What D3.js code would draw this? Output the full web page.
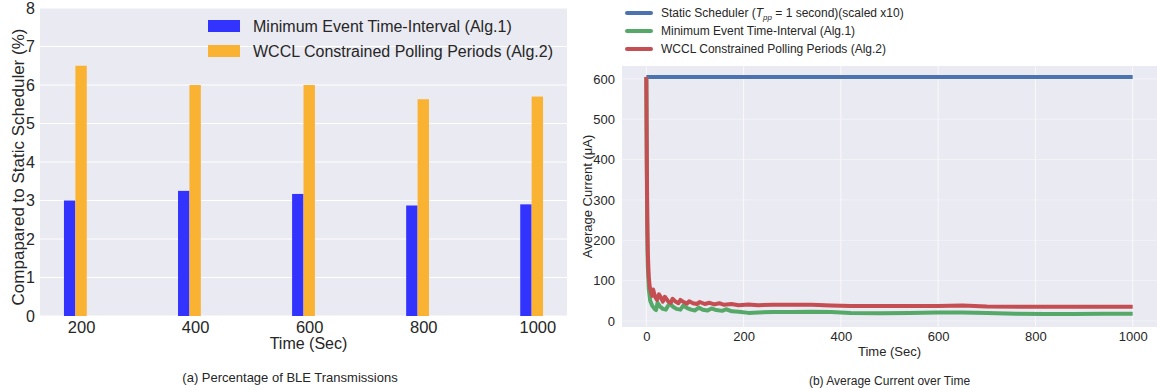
<!DOCTYPE html>
<html>
<head>
<meta charset="utf-8">
<script src="https://cdn.jsdelivr.net/npm/d3@7"></script>
<style>
  body { margin: 0; background: white; }
  text { font-family: "Liberation Sans", Arial, sans-serif; fill: #262626; }
</style>
</head>
<body>
<div id="chart"></div>
<script>
// left chart: percentage of BLE transmissions
const barTimes = [200, 400, 600, 800, 1000];
const alg1Pct = [3.0, 3.25, 3.17, 2.87, 2.9];
const alg2Pct = [6.5, 6.0, 6.0, 5.63, 5.7];
const barYTicks = [0, 1, 2, 3, 4, 5, 6, 7, 8];

// right chart: average current over time, [time, µA]
const staticLine = [[0, 605], [1000, 605]];
const alg1Current = [
  [0, 605], [1, 370], [2, 220], [3, 140], [5, 80], [8, 50], [12, 38], [17, 30], [20, 27],
  [23, 45], [28, 36], [34, 30], [40, 28], [48, 44], [54, 36], [62, 30], [70, 28], [76, 38],
  [84, 32], [92, 28], [100, 26], [108, 33], [116, 28], [126, 26], [134, 31], [144, 27],
  [156, 25], [164, 29], [176, 24], [190, 23], [210, 20], [230, 21], [260, 22], [300, 22],
  [340, 23], [380, 22], [420, 20], [480, 19], [540, 20], [600, 21], [650, 21], [700, 20],
  [760, 18], [820, 17], [880, 17], [940, 18], [1000, 18]
];
const alg2Current = [
  [0, 605], [1, 400], [2, 250], [3, 170], [5, 110], [7, 85], [10, 70], [12, 62], [14, 78],
  [18, 60], [22, 52], [26, 66], [30, 58], [34, 48], [38, 60], [44, 50], [50, 45], [54, 55],
  [60, 48], [66, 44], [70, 52], [78, 46], [84, 43], [88, 49], [96, 44], [104, 42], [110, 47],
  [120, 42], [130, 45], [140, 41], [150, 44], [160, 40], [175, 42], [190, 39], [210, 41],
  [230, 39], [260, 40], [300, 40], [340, 40], [380, 38], [420, 37], [500, 37], [600, 37],
  [650, 38], [700, 36], [800, 35], [900, 35], [1000, 35]
];
const lineXTicks = [0, 200, 400, 600, 800, 1000];
const lineYTicks = [0, 100, 200, 300, 400, 500, 600];

const w = 1157, h = 390;
const bg = "#EAEAF2";

const svg = d3.select("#chart").append("svg")
  .attr("width", w).attr("height", h)
  .style("background", "white");

// ---------- left: bars ----------
const L = { left: 40, right: 567, top: 8, bottom: 316 };
const barW = 20;
const xL = d3.scaleLinear().domain([138, 1062]).range([L.left, L.right]);
const yL = d3.scaleLinear().domain([0, 8]).range([L.bottom, L.top]);

svg.append("rect")
  .attr("x", L.left).attr("y", L.top)
  .attr("width", L.right - L.left).attr("height", L.bottom - L.top)
  .attr("fill", bg);

svg.append("g").selectAll("line")
  .data(barYTicks)
  .enter().append("line")
  .attr("x1", L.left).attr("x2", L.right)
  .attr("y1", d => yL(d)).attr("y2", d => yL(d))
  .attr("stroke", "white").attr("stroke-width", 1);

svg.append("g").selectAll("rect")
  .data(alg1Pct)
  .enter().append("rect")
  .attr("x", (d, i) => xL(barTimes[i] - barW))
  .attr("y", d => yL(d))
  .attr("width", (d, i) => xL(barTimes[i]) - xL(barTimes[i] - barW))
  .attr("height", d => yL(0) - yL(d))
  .attr("fill", "#3333FF");

svg.append("g").selectAll("rect")
  .data(alg2Pct)
  .enter().append("rect")
  .attr("x", (d, i) => xL(barTimes[i]))
  .attr("y", d => yL(d))
  .attr("width", (d, i) => xL(barTimes[i] + barW) - xL(barTimes[i]))
  .attr("height", d => yL(0) - yL(d))
  .attr("fill", "#FAB233");

const axL = svg.append("g")
  .attr("transform", "translate(" + L.left + ",0)")
  .call(d3.axisLeft(yL).tickValues(barYTicks).tickSize(0).tickPadding(5));
axL.select(".domain").remove();
axL.selectAll("text").style("font-size", "16px").style("font-family", "Liberation Sans, Arial");

const axLB = svg.append("g")
  .attr("transform", "translate(0," + L.bottom + ")")
  .call(d3.axisBottom(xL).tickValues(barTimes.map(t => t + barW / 2)).tickFormat((d, i) => barTimes[i]).tickSize(0).tickPadding(5));
axLB.select(".domain").remove();
axLB.selectAll("text").style("font-size", "16.5px").style("font-family", "Liberation Sans, Arial");

svg.append("text")
  .attr("x", (L.left + L.right) / 2 + 5).attr("y", 349)
  .attr("text-anchor", "middle")
  .style("font-size", "16px")
  .text("Time (Sec)");

svg.append("text")
  .attr("transform", "translate(24,167) rotate(-90)")
  .attr("text-anchor", "middle")
  .style("font-size", "17px")
  .text("Compapared to Static Scheduler (%)");

svg.append("text")
  .attr("x", 290).attr("y", 382)
  .attr("text-anchor", "middle")
  .style("font-size", "13px")
  .text("(a) Percentage of BLE Transmissions");

const legL = [["Minimum Event Time-Interval (Alg.1)", "#3333FF"], ["WCCL Constrained Polling Periods (Alg.2)", "#FAB233"]];
legL.forEach((d, i) => {
  svg.append("rect")
    .attr("x", 208).attr("y", 20 + i * 25)
    .attr("width", 32).attr("height", 12)
    .attr("fill", d[1]);
  svg.append("text")
    .attr("x", 253).attr("y", 32 + i * 25)
    .style("font-size", "16px")
    .text(d[0]);
});

// ---------- right: lines ----------
const R = { left: 622, right: 1157, top: 66, bottom: 327 };
const xR = d3.scaleLinear().domain([-50, 1050]).range([R.left, R.right]);
const yR = d3.scaleLinear().domain([-15, 632]).range([R.bottom, R.top]);

svg.append("rect")
  .attr("x", R.left).attr("y", R.top)
  .attr("width", R.right - R.left).attr("height", R.bottom - R.top)
  .attr("fill", bg);

svg.append("g").selectAll("line")
  .data(lineXTicks)
  .enter().append("line")
  .attr("x1", d => xR(d)).attr("x2", d => xR(d))
  .attr("y1", R.top).attr("y2", R.bottom)
  .attr("stroke", "white").attr("stroke-opacity", 0.7);

svg.append("g").selectAll("line")
  .data(lineYTicks)
  .enter().append("line")
  .attr("x1", R.left).attr("x2", R.right)
  .attr("y1", d => yR(d)).attr("y2", d => yR(d))
  .attr("stroke", "white").attr("stroke-opacity", 0.4);

const line = d3.line().x(d => xR(d[0])).y(d => yR(d[1]));
const series = [
  [staticLine, "#4C72B0"],
  [alg1Current, "#55A868"],
  [alg2Current, "#C44E52"]
];
series.forEach(s => {
  svg.append("path")
    .datum(s[0])
    .attr("d", line)
    .attr("fill", "none")
    .attr("stroke", s[1])
    .attr("stroke-width", 4)
    .attr("stroke-linejoin", "round");
});

const axR = svg.append("g")
  .attr("transform", "translate(" + R.left + ",0)")
  .call(d3.axisLeft(yR).tickValues(lineYTicks).tickSize(0).tickPadding(7));
axR.select(".domain").remove();
axR.selectAll("text").style("font-size", "13px").style("font-family", "Liberation Sans, Arial");

const axRB = svg.append("g")
  .attr("transform", "translate(0," + R.bottom + ")")
  .call(d3.axisBottom(xR).tickValues(lineXTicks).tickFormat(d3.format("d")).tickSize(0).tickPadding(5));
axRB.select(".domain").remove();
axRB.selectAll("text").style("font-size", "13px").style("font-family", "Liberation Sans, Arial");

svg.append("text")
  .attr("x", xR(500)).attr("y", 356)
  .attr("text-anchor", "middle")
  .style("font-size", "13px")
  .text("Time (Sec)");

svg.append("text")
  .attr("transform", "translate(592," + ((R.top + R.bottom) / 2) + ") rotate(-90)")
  .attr("text-anchor", "middle")
  .style("font-size", "13px")
  .text("Average Current (μA)");

svg.append("text")
  .attr("x", xR(500)).attr("y", 385)
  .attr("text-anchor", "middle")
  .style("font-size", "12px")
  .text("(b) Average Current over Time");

const legR = [
  ["#4C72B0", null],
  ["#55A868", "Minimum Event Time-Interval (Alg.1)"],
  ["#C44E52", "WCCL Constrained Polling Periods (Alg.2)"]
];
legR.forEach((d, i) => {
  const y = 13 + i * 18;
  svg.append("line")
    .attr("x1", 627).attr("x2", 651)
    .attr("y1", y).attr("y2", y)
    .attr("stroke", d[0]).attr("stroke-width", 4)
    .attr("stroke-linecap", "round");
  const t = svg.append("text")
    .attr("x", 661).attr("y", y + 4)
    .style("font-size", "12px");
  if (d[1]) {
    t.text(d[1]);
  } else {
    t.append("tspan").text("Static Scheduler (");
    t.append("tspan").style("font-style", "italic").text("T");
    t.append("tspan").style("font-style", "italic").style("font-size", "8px").attr("dy", 3).text("pp");
    t.append("tspan").attr("dy", -3).text(" = 1 second)(scaled x10)");
  }
});
</script>
</body>
</html>
